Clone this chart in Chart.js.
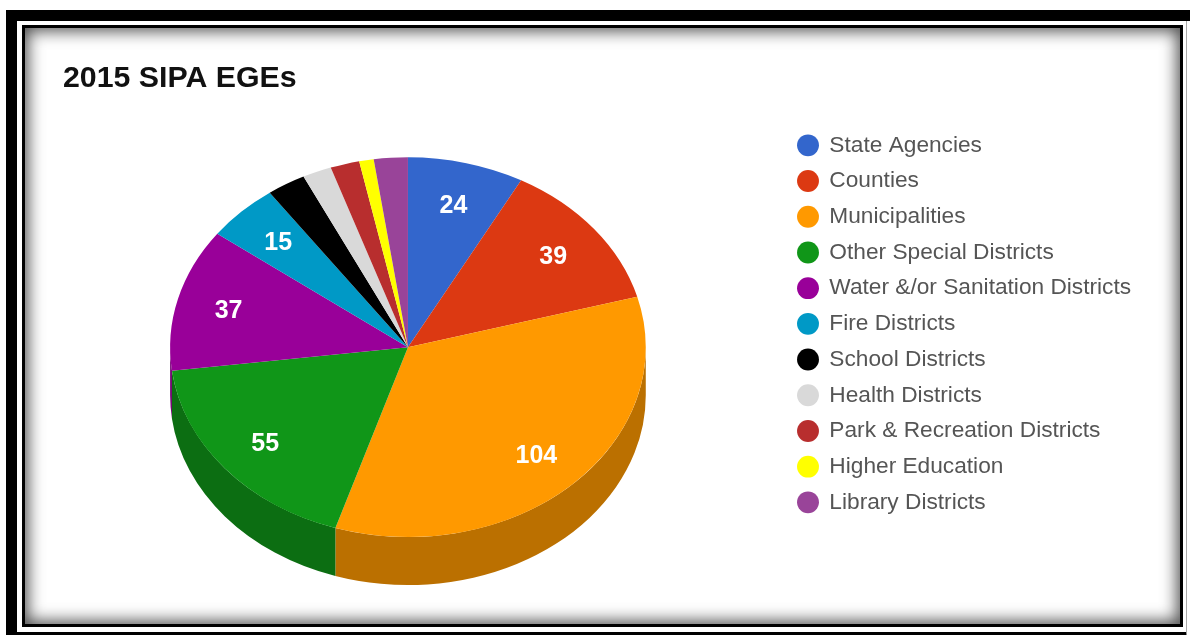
<!DOCTYPE html>
<html>
<head>
<meta charset="utf-8">
<title>2015 SIPA EGEs</title>
<script src="https://cdn.jsdelivr.net/npm/chart.js@4/dist/chart.umd.min.js"></script>
<style>
  html, body { margin: 0; padding: 0; background: #fff; overflow: hidden; }
  #page { position: relative; width: 1190px; height: 635px; overflow: hidden; }
  #outer { position: absolute; left: 6px; top: 10px; width: 1181px; height: 633px; box-sizing: border-box;
           border: 11px solid #000; border-right: 1px solid #aaa; background: #fff; }
  #topbar { position: absolute; left: 6px; top: 10px; width: 1184px; height: 11px; background: #000; }
  #inner { position: absolute; left: 22px; top: 25px; width: 1161px; height: 602px; box-sizing: border-box;
           border: 3px solid #000; background: #fff; box-shadow: inset 0 0 16px 3px rgba(0,0,0,.7); }
  canvas { position: absolute; left: 0; top: 0; filter: blur(0.5px); }
</style>
</head>
<body>
<div id="page">
  <div id="outer"></div>
  <div id="topbar"></div>
  <div id="inner"></div>
  <canvas id="chart" width="1190" height="635"></canvas>
</div>
<script>
const labels = ['State Agencies', 'Counties', 'Municipalities', 'Other Special Districts',
    'Water &/or Sanitation Districts', 'Fire Districts', 'School Districts', 'Health Districts',
    'Park & Recreation Districts', 'Higher Education', 'Library Districts'];
const values = [24, 39, 104, 55, 37, 15, 8, 6, 6, 3, 7];
const colors = ['#3366cc', '#dc3912', '#ff9900', '#109618', '#990099', '#0099c6',
    '#000000', '#d9d9d9', '#b82e2e', '#ffff00', '#994499'];
const sideColors = ['#254a94', '#a02a0d', '#bb7000', '#0c6e12', '#700070', '#007091',
    '#000000', '#9e9e9e', '#862222', '#baba00', '#703270'];

const squash = 190 / 238;
const depth = 48;
const labelMin = 15;

// tilts the pie and gives it a rim, the arcs still come from the library
const tiltPlugin = {
    id: 'tilt',
    beforeDatasetsDraw(chart) {
        const ctx = chart.ctx;
        const arcs = chart.getDatasetMeta(0).data;
        const cy = arcs[0].y;
        ctx.save();
        ctx.translate(0, cy);
        ctx.scale(1, squash);
        ctx.translate(0, -cy);
        arcs.forEach((arc, i) => {
            // only the front half of the rim can be seen
            const a0 = Math.max(arc.startAngle, 0);
            const a1 = Math.min(arc.endAngle, Math.PI);
            if (a0 >= a1) return;
            ctx.beginPath();
            ctx.arc(arc.x, arc.y, arc.outerRadius, a0, a1);
            ctx.arc(arc.x, arc.y + depth / squash, arc.outerRadius, a1, a0, true);
            ctx.closePath();
            ctx.fillStyle = sideColors[i];
            ctx.fill();
        });
    },
    afterDatasetsDraw(chart) {
        const ctx = chart.ctx;
        ctx.restore();
        const arcs = chart.getDatasetMeta(0).data;
        ctx.save();
        ctx.fillStyle = '#fff';
        ctx.font = 'bold 25px "Liberation Sans", Arial, sans-serif';
        ctx.textAlign = 'center';
        ctx.textBaseline = 'middle';
        arcs.forEach((arc, i) => {
            if (values[i] < labelMin) return;
            const mid = (arc.startAngle + arc.endAngle) / 2;
            const r = arc.outerRadius * 0.78;
            ctx.fillText(values[i], arc.x + Math.cos(mid) * r, arc.y + Math.sin(mid) * r * squash + 2);
        });
        ctx.restore();
    }
};

// title and legend sit at fixed places, not in the layout flow
const placePlugin = {
    id: 'place',
    afterLayout(chart) {
        chart.titleBlock.left = 63;
        chart.titleBlock.right = 600;
        chart.titleBlock.top = 60;
        chart.titleBlock.bottom = 96;
        const legend = chart.legend;
        const w = legend.width, h = legend.height;
        legend.left = 785;
        legend.right = 785 + w;
        legend.top = 121;
        legend.bottom = 121 + h;
    }
};

new Chart(document.getElementById('chart'), {
    type: 'pie',
    data: {
        labels: labels,
        datasets: [{
            data: values,
            backgroundColor: colors,
            borderWidth: 0
        }]
    },
    plugins: [tiltPlugin, placePlugin],
    options: {
        responsive: false,
        animation: false,
        devicePixelRatio: 1,
        layout: { padding: { left: 169, right: 187, top: 73, bottom: 50 } },
        plugins: {
            tooltip: { enabled: false },
            title: {
                display: true,
                text: '2015 SIPA EGEs',
                align: 'start',
                color: '#111',
                font: { family: '"Liberation Sans", Arial, sans-serif', size: 30.3, weight: 'bold' },
                padding: { top: 0, bottom: 0 }
            },
            legend: {
                position: 'right',
                align: 'start',
                labels: {
                    usePointStyle: true,
                    pointStyle: 'circle',
                    boxWidth: 20,
                    boxHeight: 15.5,
                    padding: 13,
                    color: '#555',
                    font: { family: '"Liberation Sans", Arial, sans-serif', size: 22.7 }
                }
            }
        }
    }
});
</script>
</body>
</html>
